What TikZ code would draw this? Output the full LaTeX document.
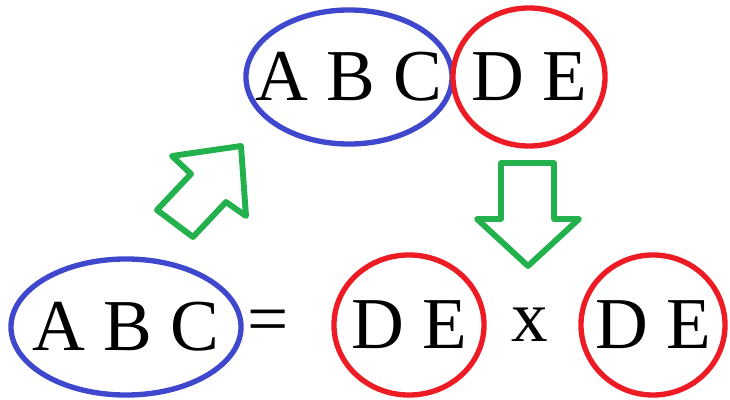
\documentclass[tikz,border=0pt]{standalone}
\usepackage{fontspec}
\setmainfont{Liberation Serif}
\usetikzlibrary{shapes.geometric}
\definecolor{ovalBlue}{RGB}{63,72,204}
\definecolor{ovalRed}{RGB}{237,28,36}
\definecolor{arrowGreen}{RGB}{34,177,76}
\newcommand{\ovaltext}[1]{\makebox[0pt]{#1}}

\begin{document}
\begin{tikzpicture}[x=0.025cm, y=-0.025cm,
    every node/.style={font=\fontsize{52}{52}\selectfont, inner sep=0pt},
    blueoval/.style={ellipse, draw=ovalBlue, line width=3.8pt},
    redoval/.style={ellipse, draw=ovalRed, line width=3.8pt},
    blockarrow/.style={draw=arrowGreen, line width=4.2pt, line join=round}]
  \useasboundingbox (0,0) rectangle (730,400);
  % Top row: A B C D E
  \node[blueoval, minimum width=5.15cm, minimum height=3.35cm] (topABC) at (349,77) {\ovaltext{A B C}};
  \node[redoval, minimum width=3.8cm, minimum height=3.45cm] (topDE) at (529,77) {\ovaltext{D E}};
  % Bottom row: A B C = D E x D E
  \node[blueoval, minimum width=5.75cm, minimum height=3.4cm] (botABC) at (126,327) {\ovaltext{A B C}};
  \node (equals) at (268,327) {=};
  \node[redoval, minimum width=3.75cm, minimum height=3.5cm] (leftDE) at (409,325) {\ovaltext{D E}};
  \node (times) at (530,325) {x};
  \node[redoval, minimum width=3.6cm, minimum height=3.5cm] (rightDE) at (653,325) {\ovaltext{D E}};
  % Arrow up to the top row
  \draw[blockarrow] (241,146) -- (172,156) -- (191,174) -- (157,210) -- (193,237)
    -- (226,202) -- (246,216) -- cycle;
  % Arrow down to the bottom row
  \draw[blockarrow] (501,163) -- (554,163) -- (554,219) -- (579,219) -- (528,266)
    -- (477,219) -- (501,219) -- cycle;
\end{tikzpicture}
\end{document}
